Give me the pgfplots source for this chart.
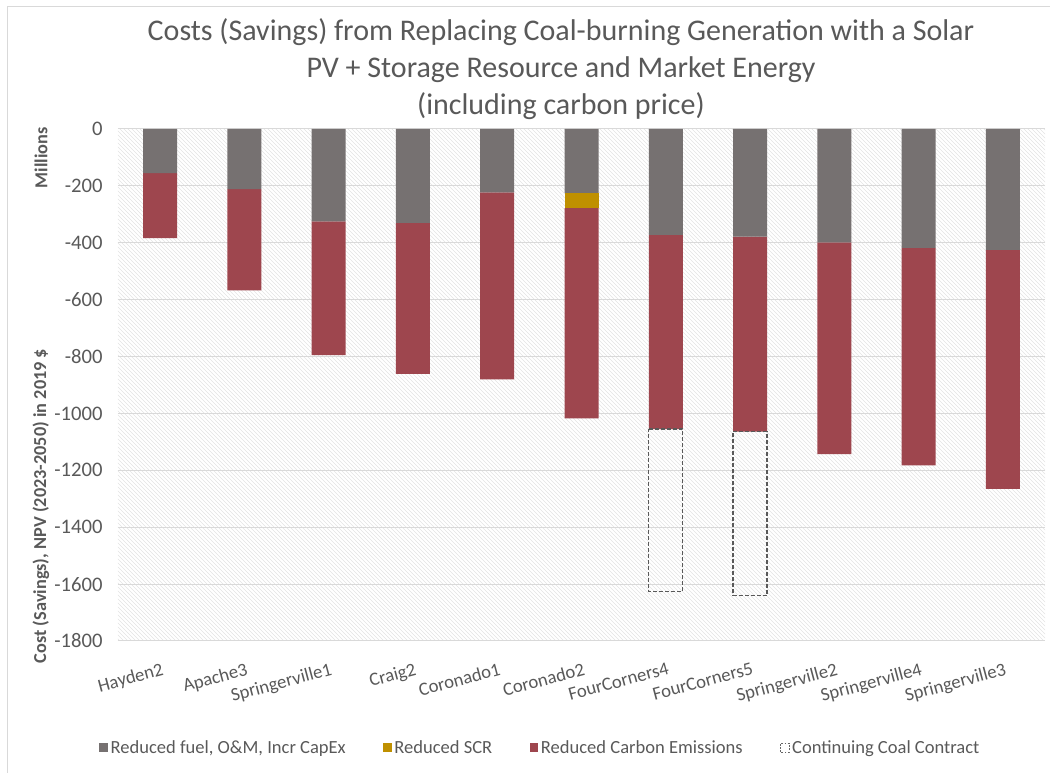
\documentclass[border=0pt]{standalone}
\usepackage{fontspec}
\setmainfont{Carlito}
\usepackage{pgfplots}
\pgfplotsset{compat=1.18}
\usetikzlibrary{patterns}
\definecolor{cfuel}{HTML}{767171}
\definecolor{cscr}{HTML}{BF9000}
\definecolor{ccarbon}{HTML}{9E464E}
\definecolor{ctext}{HTML}{595959}
\definecolor{cgrid}{HTML}{D9D9D9}
\begin{document}
\begin{tikzpicture}
\begin{scope}[x=0.75pt,y=-0.75pt,shift={(0pt,579.75pt)}]
\useasboundingbox (0,0) rectangle (1050,773);
\draw[cgrid, line width=0.75pt] (7,773) -- (7,7) -- (1050,7);
\node[font=\fontsize{22.5}{27.5}\selectfont, text=ctext, align=center] at (561,69)
  {Costs (Savings) from Replacing Coal-burning Generation with a Solar\\PV + Storage Resource and Market Energy\\(including carbon price)};
\node[rotate=90, font=\bfseries\fontsize{13.7}{15}\selectfont, text=ctext] at (41,158) {Millions};
\node[rotate=90, font=\bfseries\fontsize{13.7}{15}\selectfont, text=ctext] at (41,506) {Cost (Savings), NPV (2023-2050) in 2019 \$};
\end{scope}

\begin{axis}[
  at={(88.5pt,99pt)}, anchor=south west, scale only axis,
  width=695.25pt, height=384pt,
  ybar stacked, bar width=25.5pt,
  xmin=-0.5, xmax=10.5, ymin=-1800, ymax=0,
  xtick={0,...,10},
  xticklabels={Hayden2,Apache3,Springerville1,Craig2,Coronado1,Coronado2,FourCorners4,FourCorners5,Springerville2,Springerville4,Springerville3},
  ytick={-1800,-1600,...,0},
  major tick length=0pt,
  axis line style={draw=none},
  ymajorgrids, grid style={cgrid, line width=0.75pt},
  axis background/.style={pattern=north west lines, pattern color=black!11},
  tick label style={text=ctext, font=\fontsize{14}{16}\selectfont},
  yticklabel style={font=\fontsize{15.5}{17}\selectfont, xshift=-8pt},
  /pgf/number format/assume math mode=true,
  /pgf/number format/1000 sep={},
  xticklabel style={rotate=15, anchor=north east, yshift=-12pt},
  legend style={at={(0.456,-0.209)}, anchor=center, draw=none, fill=none,
    font=\fontsize{13.9}{16}\selectfont, text=ctext,
    /tikz/every even column/.append style={column sep=26pt}},
  legend columns=4, legend cell align=left,
  legend image code/.code={\fill[#1] (0pt,-3pt) rectangle (6.5pt,3.5pt);},
]
\addplot[fill=cfuel, draw=none] coordinates {(0,-155) (1,-211) (2,-325) (3,-330) (4,-223) (5,-225) (6,-372) (7,-378) (8,-399) (9,-418) (10,-425)};
\addlegendentry{Reduced fuel, O\&M, Incr CapEx}
\addplot[fill=cscr, draw=none] coordinates {(0,0) (1,0) (2,0) (3,0) (4,0) (5,-53) (6,0) (7,0) (8,0) (9,0) (10,0)};
\addlegendentry{Reduced SCR}
\addplot[fill=ccarbon, draw=none] coordinates {(0,-229) (1,-356) (2,-470) (3,-531) (4,-657) (5,-739) (6,-683) (7,-686) (8,-744) (9,-765) (10,-840)};
\addlegendentry{Reduced Carbon Emissions}
\addlegendimage{legend image code/.code={\draw[black!60, line width=0.6pt, dash pattern=on 1.2pt off 1.2pt] (0pt,-3pt) rectangle (6.5pt,3.5pt);}}
\addlegendentry{Continuing Coal Contract}
\end{axis}

\begin{axis}[
  at={(88.5pt,99pt)}, anchor=south west, scale only axis,
  width=695.25pt, height=384pt,
  ybar stacked, bar width=25.5pt,
  xmin=-0.5, xmax=10.5, ymin=-1800, ymax=0,
  hide axis,
]
\addplot[draw=none, fill=none] coordinates {(6,-1055) (7,-1064)};
\addplot[draw=black!65, line width=0.9pt, dash pattern=on 3pt off 1.5pt, fill=none] coordinates {(6,-571) (7,-576)};
\end{axis}
\end{tikzpicture}
\end{document}
